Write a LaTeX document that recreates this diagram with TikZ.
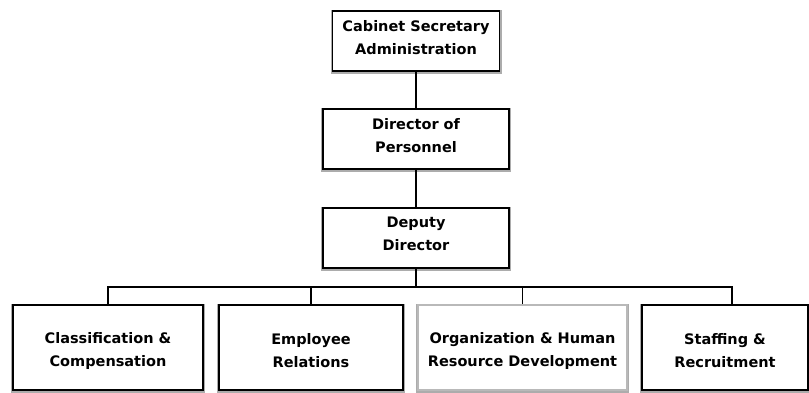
\documentclass[tikz,border=0pt]{standalone}
\usepackage{fontspec}
\setmainfont{DejaVu Sans}
\newcommand{\liftup}{\rule[-8pt]{0pt}{8pt}}
\newcommand{\pushdn}{\rule{0pt}{17pt}}
\begin{document}
\begin{tikzpicture}[x=1pt,y=-1pt,
  box/.style={draw=black, line width=1.6pt, fill=white, rectangle, align=center,
    inner sep=0pt, font=\bfseries\fontsize{14.5}{23}\selectfont,
    preaction={draw=gray!65, line width=4pt, transform canvas={yshift=-1pt}}},
  lightbox/.style={box, draw=gray!55},
  conn/.style={draw=black, line width=1.4pt}]
\useasboundingbox (0,0) rectangle (809,392);
\node[box, minimum width=167pt, minimum height=60pt] (cab) at (416,41) {Cabinet Secretary\\Administration\liftup};
\node[box, minimum width=186pt, minimum height=60pt] (dir) at (416,139) {Director of\\Personnel\liftup};
\node[box, minimum width=186pt, minimum height=60pt] (dep) at (416,238) {Deputy\\Director\liftup};
\node[box, minimum width=190pt, minimum height=85pt] (b1) at (108,347.5) {\pushdn Classification \&\\Compensation};
\node[box, minimum width=184pt, minimum height=85pt] (b2) at (311,347.5) {\pushdn Employee\\Relations};
\node[lightbox, minimum width=209pt, minimum height=85pt] (b3) at (522.5,347.5) {\pushdn Organization \& Human\\Resource Development};
\node[box, minimum width=166pt, minimum height=85pt] (b4) at (725,347.5) {\pushdn Staffing \&\\Recruitment};
\coordinate (bus) at (416,287);
\path (b4.north) ++(7,0) coordinate (b4in);
\draw[conn] (cab.south) -- (dir.north);
\draw[conn] (dir.south) -- (dep.north);
\draw[conn] (dep.south) -- (bus);
\draw[conn] (b1.north) |- (bus) -| (b4in);
\draw[conn] (b2.north) -- (b2.north |- bus);
\draw[conn] (b3.north) -- (b3.north |- bus);
\end{tikzpicture}
\end{document}
